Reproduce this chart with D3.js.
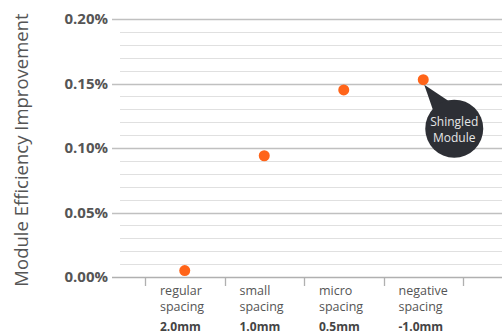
<!DOCTYPE html>
<html>
<head>
<meta charset="utf-8">
<script src="https://cdn.jsdelivr.net/npm/d3@7"></script>
<style>
  html, body { margin: 0; padding: 0; background: #fff; }
  svg { display: block; font-family: "Open Sans", sans-serif; }
</style>
</head>
<body>
<svg id="chart" width="502" height="334"></svg>
<script>
const categories = ["regular spacing", "small spacing", "micro spacing", "negative spacing"];
const labelLine1 = ["regular", "small", "micro", "negative"];
const labelLine2 = ["spacing", "spacing", "spacing", "spacing"];
const labelLine3 = ["2.0mm", "1.0mm", "0.5mm", "-1.0mm"];
const values = [0.005, 0.094, 0.145, 0.153];
const majorTicks = [0, 0.05, 0.10, 0.15, 0.20];
const minorTicks = [0.01,0.02,0.03,0.04,0.06,0.07,0.08,0.09,0.11,0.12,0.13,0.14,0.16,0.17,0.18,0.19];
const yTitle = "Module Efficiency Improvement";
const callout = ["Shingled", "Module"];
const calloutIndex = 3;

const svg = d3.select("#chart");
const x = d3.scaleBand().domain(categories).range([145, 463]).padding(0);
const y = d3.scaleLinear().domain([0, 0.20]).range([277, 19]);
const right = 502;

// minor gridlines
svg.append("g").selectAll("line").data(minorTicks).join("line")
  .attr("x1", 120).attr("x2", right)
  .attr("y1", d => Math.round(y(d)) + 0.5).attr("y2", d => Math.round(y(d)) + 0.5)
  .attr("stroke", "#e0e0e0").attr("stroke-width", 1.2);

// major gridlines
svg.append("g").selectAll("line").data(majorTicks).join("line")
  .attr("x1", 112).attr("x2", right)
  .attr("y1", d => Math.round(y(d)) + 0.5).attr("y2", d => Math.round(y(d)) + 0.5)
  .attr("stroke", d => d === 0 ? "#b0b0b0" : "#c0c0c0").attr("stroke-width", d => d === 0 ? 1.6 : 1.3);

// y tick labels
svg.append("g").selectAll("text").data(majorTicks).join("text")
  .attr("x", 108).attr("y", d => y(d))
  .attr("dy", "0.35em")
  .attr("text-anchor", "end")
  .attr("font-size", 15).attr("font-weight", 700).attr("fill", "#555")
  .text(d => d3.format(".2f")(d) + "%");

// x ticks at band boundaries
const bounds = categories.map(c => x(c)).concat([x(categories[categories.length - 1]) + x.bandwidth()]);
svg.append("g").selectAll("line").data(bounds).join("line")
  .attr("x1", d => Math.round(d) + 0.5).attr("x2", d => Math.round(d) + 0.5)
  .attr("y1", 277).attr("y2", 286)
  .attr("stroke", "#b0b0b0").attr("stroke-width", 1.3);

// x labels
const lab = svg.append("g").selectAll("g").data(categories).join("g")
  .attr("transform", c => `translate(${x(c) + 15},0)`);
lab.append("text").attr("y", 295).attr("font-size", 12.5).attr("fill", "#555")
  .text((c, i) => labelLine1[i]);
lab.append("text").attr("y", 311).attr("font-size", 12.5).attr("fill", "#555")
  .text((c, i) => labelLine2[i]);
lab.append("text").attr("y", 331).attr("font-size", 12).attr("font-weight", 700).attr("fill", "#444")
  .text((c, i) => labelLine3[i]);

// y title
svg.append("text")
  .attr("transform", "translate(28,150) rotate(-90)")
  .attr("text-anchor", "middle")
  .attr("font-size", 18.5).attr("fill", "#555")
  .text(yTitle);

// callout
const px = x(categories[calloutIndex]) + x.bandwidth() / 2;
const py = y(values[calloutIndex]);
const cx = px + 31, cy = py + 49, r = 29;
const cg = svg.append("g");
cg.append("path")
  .attr("d", `M${px + 1},${py + 5} L${cx - 20},${cy - 15} L${cx - 6},${cy - 28} Z`)
  .attr("fill", "#2d2f35");
cg.append("circle").attr("cx", cx).attr("cy", cy).attr("r", r).attr("fill", "#2d2f35");
cg.selectAll("text").data(callout).join("text")
  .attr("x", cx).attr("y", (d, i) => cy - 3 + i * 16)
  .attr("text-anchor", "middle")
  .attr("font-size", 12).attr("fill", "#e6e6e6")
  .text(d => d);

// points
svg.append("g").selectAll("circle").data(values).join("circle")
  .attr("cx", (d, i) => x(categories[i]) + x.bandwidth() / 2)
  .attr("cy", d => y(d))
  .attr("r", 5.5)
  .attr("fill", "#ff6419");
</script>
</body>
</html>
